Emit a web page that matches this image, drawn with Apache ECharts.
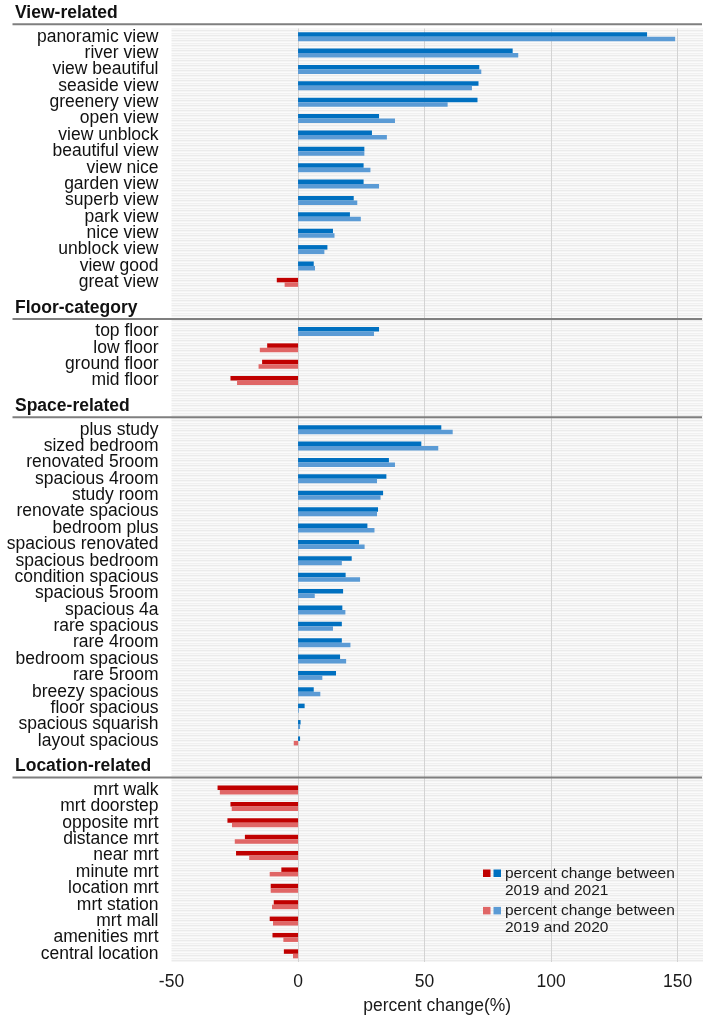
<!DOCTYPE html>
<html>
<head>
<meta charset="utf-8">
<title>Percent change of listing terms</title>
<script src="https://cdn.jsdelivr.net/npm/echarts@6/dist/echarts.min.js"></script>
<style>
  html, body { margin: 0; padding: 0; background: #fff; }
  #main { width: 708px; height: 1020px; }
</style>
</head>
<body>
<div id="main"></div>
<script>
const FONT = '"Liberation Sans", Arial, sans-serif';

const sectionTitles = ['View-related', 'Floor-category', 'Space-related', 'Location-related'];

const viewTerms = ['panoramic view', 'river view', 'view beautiful', 'seaside view', 'greenery view',
  'open view', 'view unblock', 'beautiful view', 'view nice', 'garden view', 'superb view',
  'park view', 'nice view', 'unblock view', 'view good', 'great view'];
const viewChange2021 = [137.9, 84.8, 71.6, 71.3, 70.9, 32.0, 29.2, 26.2, 25.9, 25.9, 22.0, 20.5, 13.8, 11.6, 6.2, -8.4];
const viewChange2020 = [149.0, 87.0, 72.4, 68.7, 59.1, 38.3, 35.1, 26.2, 28.6, 32.0, 23.4, 24.8, 14.4, 10.4, 6.7, -5.3];

const floorTerms = ['top floor', 'low floor', 'ground floor', 'mid floor'];
const floorChange2021 = [32.0, -12.2, -14.2, -26.7];
const floorChange2020 = [30.0, -15.1, -15.6, -24.1];

const spaceTerms = ['plus study', 'sized bedroom', 'renovated 5room', 'spacious 4room', 'study room',
  'renovate spacious', 'bedroom plus', 'spacious renovated', 'spacious bedroom', 'condition spacious',
  'spacious 5room', 'spacious 4a', 'rare spacious', 'rare 4room', 'bedroom spacious', 'rare 5room',
  'breezy spacious', 'floor spacious', 'spacious squarish', 'layout spacious'];
const spaceChange2021 = [56.6, 48.7, 35.9, 34.9, 33.6, 31.6, 27.4, 24.1, 21.2, 18.8, 17.8, 17.5, 17.3, 17.3, 16.6, 15.0, 6.2, 2.6, 1.0, 0.8];
const spaceChange2020 = [61.1, 55.4, 38.3, 31.2, 32.6, 31.2, 30.2, 26.3, 17.3, 24.5, 6.6, 18.7, 13.8, 20.7, 19.0, 9.6, 8.8, 0.3, 0.8, -1.7];

const locationTerms = ['mrt walk', 'mrt doorstep', 'opposite mrt', 'distance mrt', 'near mrt', 'minute mrt',
  'location mrt', 'mrt station', 'mrt mall', 'amenities mrt', 'central location'];
const locationChange2021 = [-31.8, -26.7, -27.9, -21.0, -24.5, -6.6, -10.8, -9.6, -11.2, -10.1, -5.6];
const locationChange2020 = [-30.9, -26.2, -26.1, -25.0, -19.3, -11.2, -10.8, -10.3, -9.9, -5.8, -2.0];

const xTicks = [-50, 0, 50, 100, 150];
const seriesNames = ['percent change between 2019 and 2021', 'percent change between 2019 and 2020'];

const sections = [
  [viewTerms, viewChange2021, viewChange2020],
  [floorTerms, floorChange2021, floorChange2020],
  [spaceTerms, spaceChange2021, spaceChange2020],
  [locationTerms, locationChange2021, locationChange2020]
];

// one category axis, two blank rows between sections for the headers
const categories = [];
const data2021 = [];
const data2020 = [];
const firstTerms = [];
let spacer = 1;
sections.forEach(([terms, a, b], i) => {
  if (i > 0) {
    for (let k = 0; k < 2; k++) {
      categories.push(' '.repeat(spacer++));
      data2021.push(null);
      data2020.push(null);
    }
  }
  firstTerms.push(terms[0]);
  terms.forEach((t, j) => {
    categories.push(t);
    data2021.push(a[j]);
    data2020.push(b[j]);
  });
});

// faint striped background like the original
const stripe = document.createElement('canvas');
stripe.width = 4;
stripe.height = 5;
const sctx = stripe.getContext('2d');
['#ebebeb', '#f5f5f5', '#fbfbfb', '#f0f0f0', '#f8f8f8'].forEach((c, i) => {
  sctx.fillStyle = c;
  sctx.fillRect(0, i, 4, 1);
});

const chart = echarts.init(document.getElementById('main'));

const option = {
  animation: false,
  textStyle: { fontFamily: FONT },
  grid: {
    left: 171.5,
    right: 5,
    top: 28.5,
    bottom: 57.8,
    show: true,
    borderWidth: 0,
    backgroundColor: { image: stripe, repeat: 'repeat' }
  },
  xAxis: {
    type: 'value',
    min: xTicks[0],
    max: 160,
    interval: 50,
    name: 'percent change(%)',
    nameLocation: 'middle',
    nameGap: 35,
    nameTextStyle: { fontSize: 17.5, color: '#1a1a1a', fontFamily: FONT },
    axisLine: { show: false },
    axisTick: { show: false },
    axisLabel: {
      fontSize: 17.5,
      color: '#1a1a1a',
      margin: 11,
      showMaxLabel: false,
      formatter: v => (xTicks.indexOf(v) >= 0 ? String(v) : '')
    },
    splitLine: {
      show: true,
      showMinLine: false,
      showMaxLine: false,
      lineStyle: { color: '#d3d3d3', width: 1 }
    }
  },
  yAxis: {
    type: 'category',
    inverse: true,
    data: categories,
    axisLine: { show: false },
    axisTick: { show: false },
    splitLine: { show: false },
    axisLabel: { fontSize: 17.5, color: '#111', margin: 13, interval: 0 }
  },
  series: [
    {
      name: seriesNames[0],
      type: 'bar',
      data: data2021,
      barWidth: 4.5,
      barGap: '0%',
      itemStyle: { color: p => (p.value >= 0 ? '#0070c0' : '#c00000') }
    },
    {
      name: seriesNames[1],
      type: 'bar',
      data: data2020,
      barWidth: 4.5,
      barGap: '0%',
      itemStyle: { color: p => (p.value >= 0 ? '#5b9bd5' : '#e06666') }
    }
  ]
};

chart.setOption(option);

// section headers and separator lines, placed from the category scale
const rowH = chart.convertToPixel({ yAxisIndex: 0 }, categories[1]) -
  chart.convertToPixel({ yAxisIndex: 0 }, categories[0]);
const graphics = [];
firstTerms.forEach((t, i) => {
  const ly = chart.convertToPixel({ yAxisIndex: 0 }, t) - rowH * 0.76;
  graphics.push({
    type: 'line',
    z: 50,
    shape: { x1: 12.5, y1: ly, x2: 702, y2: ly },
    style: { stroke: '#7f7f7f', lineWidth: 2 }
  });
  graphics.push({
    type: 'text',
    z: 50,
    x: 15,
    y: ly - 2,
    style: {
      text: sectionTitles[i],
      fontSize: 17.5,
      fontWeight: 'bold',
      fontFamily: FONT,
      fill: '#111',
      verticalAlign: 'bottom'
    }
  });
});

// legend: red + blue square per series
const legendItems = [
  { label: 'percent change between\n2019 and 2021', neg: '#c00000', pos: '#0070c0' },
  { label: 'percent change between\n2019 and 2020', neg: '#e06666', pos: '#5b9bd5' }
];
legendItems.forEach((it, i) => {
  graphics.push({
    type: 'group',
    x: 483,
    y: 865 + i * 37.4,
    z: 60,
    children: [
      { type: 'rect', shape: { x: 0, y: 4.5, width: 7.5, height: 7.5 }, style: { fill: it.neg } },
      { type: 'rect', shape: { x: 10.5, y: 4.5, width: 7.5, height: 7.5 }, style: { fill: it.pos } },
      {
        type: 'text',
        x: 22,
        y: 0,
        style: {
          text: it.label,
          fontSize: 15.5,
          lineHeight: 17,
          fontFamily: FONT,
          fill: '#1a1a1a',
          verticalAlign: 'top'
        }
      }
    ]
  });
});

chart.setOption({ graphic: graphics });

window.addEventListener('resize', () => chart.resize());
</script>
</body>
</html>
